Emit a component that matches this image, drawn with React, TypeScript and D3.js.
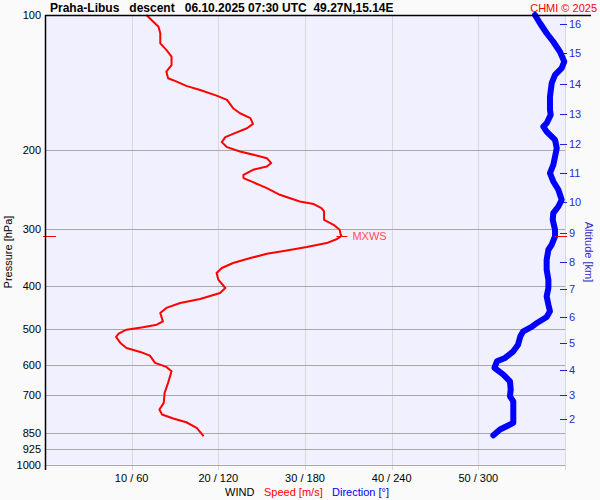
import React from "react";
import * as d3 from "d3";

// Wind speed profile (pressure hPa, speed m/s)
const speedPressure = [100, 103.5, 106.2, 109.8, 115.6, 119.6, 123.8, 129.2, 133.6, 138.3, 140.7, 143.8, 146.8, 151.1, 154.5, 161.2, 165.4, 169.6, 174.7, 178.6, 183.8, 187.0, 191.8, 196.8, 201.2, 205.4, 208.2, 213.5, 217.4, 221.0, 226.8, 230.6, 235.4, 242.7, 251.2, 259.9, 263.4, 268.9, 273.6, 285.5, 292.9, 300.5, 306.7, 310, 315.1, 321.7, 328.2, 334.0, 339.8, 347.3, 356.2, 365.5, 375.0, 388.0, 404.9, 415.4, 428.2, 437.1, 448.4, 460.0, 480.3, 488.5, 495.3, 501.2, 511.6, 520.3, 536.5, 550.4, 561.8, 572.5, 594.3, 606.6, 620.4, 658.4, 693.0, 729.3, 754.7, 774.3, 790.3, 805.4, 828.8, 865.0];
const speedValues = [11.7, 12.5, 13.1, 13.3, 13.3, 14.0, 14.6, 14.6, 14.0, 14.2, 15.2, 16.3, 17.9, 19.8, 21.0, 21.7, 22.5, 23.7, 24.0, 23.3, 21.7, 20.8, 20.4, 21.0, 22.5, 24.4, 25.6, 26.1, 25.6, 24.0, 22.9, 22.9, 24.0, 25.6, 27.1, 29.4, 31.0, 31.9, 32.2, 32.2, 33.3, 34.0, 34.1, 34.2, 33.7, 32.5, 30.2, 27.9, 25.6, 23.7, 21.7, 20.4, 19.8, 20.0, 20.8, 20.2, 17.9, 15.6, 14.0, 13.3, 13.6, 12.9, 11.3, 9.4, 8.5, 8.2, 8.7, 9.4, 11.0, 12.1, 12.7, 14.0, 14.6, 14.2, 13.8, 13.7, 13.2, 13.5, 14.8, 16.3, 17.5, 18.3];

// Wind direction profile (pressure hPa, direction deg)
const dirPressure = [100, 104.3, 109.8, 114.7, 120.7, 127.0, 131.3, 135.9, 141.8, 151.9, 162.6, 166.8, 174.1, 177.1, 181.7, 189.6, 197.8, 206.5, 215.4, 224.7, 234.6, 244.8, 257.7, 266.7, 275.9, 285.5, 300.5, 310.9, 324.4, 332.8, 350.3, 368.7, 388.0, 404.9, 422.7, 441.0, 456.3, 469.7, 484.3, 494.3, 505.5, 518.6, 541.2, 560.1, 579.3, 589.3, 609.6, 631.0, 653.0, 681.3, 705.1, 723.4, 781.0, 807.7, 822.0, 836.0, 860.8];
const dirValues = [339.2, 342.7, 347.3, 351.9, 356.5, 359.5, 357.7, 353.1, 350.8, 349.6, 349.6, 350.1, 347.3, 345.0, 347.3, 353.1, 354.3, 353.1, 351.9, 349.6, 351.9, 355.4, 357.7, 355.4, 351.9, 351.5, 353.1, 353.1, 350.8, 348.5, 347.3, 347.3, 348.5, 348.5, 347.3, 348.5, 349.6, 347.3, 340.6, 336.9, 331.1, 329.1, 327.5, 324.2, 318.5, 312.9, 311.2, 317.3, 321.9, 322.4, 321.9, 324.2, 324.2, 324.2, 319.6, 315.0, 310.4];

// Axes
const pressureTicks = [100, 200, 300, 400, 500, 600, 700, 850, 925, 1000];
const speedTicks = [10, 20, 30, 40, 50];
const dirTicks = [60, 120, 180, 240, 300];
const altitudeKm = [2, 3, 4, 5, 6, 7, 8, 9, 10, 11, 12, 13, 14, 15, 16];
const altitudePressure = [794, 701.5, 615, 538, 470, 408, 354.4, 305.6, 260.8, 224.7, 193.5, 165.7, 142.6, 121.6, 104.9];

// Max wind
const mxwsPressure = 310;
const mxwsSpeed = 34.2;

const title = "Praha-Libus   descent   06.10.2025 07:30 UTC  49.27N,15.14E";

export default function App() {
  const W = 600, H = 500;
  const left = 45, right = 565, top = 15, bottom = 464.5;
  const y = d3.scaleLog().domain([100, 1000]).range([top, bottom]);
  const xs = d3.scaleLinear().domain([0, 60]).range([left, right]);
  const xd = d3.scaleLinear().domain([0, 360]).range([left, right]);
  const font = "Liberation Sans, Arial, sans-serif";

  const speedLine = d3
    .line<number>()
    .x((_, i) => xs(speedValues[i]))
    .y((p) => y(p))
    .curve(d3.curveLinear)(speedPressure) as string;
  const dirLine = d3
    .line<number>()
    .x((_, i) => xd(dirValues[i]))
    .y((p) => y(p))
    .curve(d3.curveLinear)(dirPressure) as string;

  const ym = y(mxwsPressure);
  const xm = xs(mxwsSpeed);

  return (
    <svg width={W} height={H} style={{ position: "absolute", left: 0, top: 0 }} fontFamily={font}>
      <rect x={0} y={0} width={W} height={H} fill="#fafafa" />
      <rect x={left} y={top} width={right - left} height={bottom - top} fill="#f0f0ff" />
      {/* vertical grid */}
      {[...speedTicks, 60].map((t) => (
        <line key={"v" + t} x1={Math.round(xs(t)) + 0.5} x2={Math.round(xs(t)) + 0.5} y1={top} y2={470} stroke="#d8d8d8" strokeWidth={1} />
      ))}
      {/* horizontal grid */}
      {pressureTicks.filter((p) => p !== 100).map((p) => (
        <line key={"h" + p} x1={left} x2={right} y1={Math.round(y(p)) + 0.5} y2={Math.round(y(p)) + 0.5} stroke="#a8a8a8" strokeWidth={1} />
      ))}
      {/* left axis labels */}
      {pressureTicks.map((p) => (
        <text key={"pl" + p} x={41} y={y(p) + 4} textAnchor="end" fontSize={11} fill="#000">
          {p}
        </text>
      ))}
      <text transform={`translate(12,252) rotate(-90)`} textAnchor="middle" fontSize={11} fill="#000">
        Pressure [hPa]
      </text>
      {/* bottom labels */}
      {speedTicks.map((t, i) => (
        <text key={"bl" + t} x={xs(t)} y={482} textAnchor="middle" fontSize={11} fill="#000">
          {`${t} / ${dirTicks[i]}`}
        </text>
      ))}
      <text x={225} y={496} fontSize={11} fill="#000">WIND</text>
      <text x={264} y={496} fontSize={11} fill="#ff0000">Speed [m/s]</text>
      <text x={332} y={496} fontSize={11} fill="#0000ff">Direction [°]</text>
      {/* altitude axis */}
      {altitudeKm.map((k, i) => (
        <g key={"alt" + k}>
          <line x1={560} x2={567} y1={Math.round(y(altitudePressure[i])) + 0.5} y2={Math.round(y(altitudePressure[i])) + 0.5} stroke="#2020e0" strokeWidth={1} />
          <text x={569} y={y(altitudePressure[i]) + 4} fontSize={11} fill="#2a2ad0">
            {k}
          </text>
        </g>
      ))}
      <text transform={`translate(585,252) rotate(90)`} textAnchor="middle" fontSize={11} fill="#2a2ad0">
        Altitude [km]
      </text>
      {/* data lines */}
      <path d={dirLine} fill="none" stroke="#0000ff" strokeWidth={6} strokeLinejoin="round" strokeLinecap="round" />
      <path d={speedLine} fill="none" stroke="#ff0000" strokeWidth={2} strokeLinejoin="round" />
      {/* MXWS markers */}
      <line x1={43} x2={56} y1={Math.round(ym) + 0.5} y2={Math.round(ym) + 0.5} stroke="#ff0000" strokeWidth={1} />
      <line x1={555} x2={567} y1={Math.round(ym) + 0.5} y2={Math.round(ym) + 0.5} stroke="#ff0000" strokeWidth={1} />
      <line x1={xm - 5} x2={xm + 6} y1={Math.round(ym) + 0.5} y2={Math.round(ym) + 0.5} stroke="#ff0000" strokeWidth={1} />
      <text x={xm + 11} y={ym + 4} fontSize={11} fill="#ff5050">MXWS</text>
      {/* frame */}
      <line x1={left + 0.5} x2={left + 0.5} y1={top} y2={470} stroke="#000" strokeWidth={1.5} />
      <line x1={left} x2={591} y1={top + 0.5} y2={top + 0.5} stroke="#000" strokeWidth={1.5} />
      {/* title */}
      <text x={50} y={12} fontSize={12} fontWeight="bold" fill="#000" style={{ whiteSpace: "pre" }}>
        {title}
      </text>
      <text x={597} y={12} textAnchor="end" fontSize={11} fill="#ff0000">CHMI © 2025</text>
    </svg>
  );
}
